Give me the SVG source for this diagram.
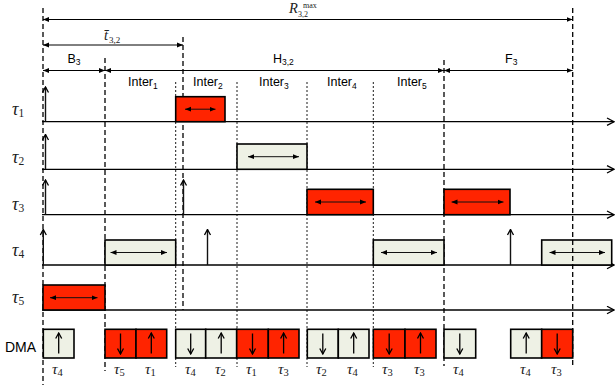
<svg xmlns="http://www.w3.org/2000/svg" width="616" height="385" viewBox="0 0 616 385">
  <defs>
    <marker id="tri" viewBox="0 0 6 6" markerWidth="6" markerHeight="6" refX="6" refY="3" orient="auto-start-reverse" markerUnits="userSpaceOnUse">
      <path d="M0,0.6 L6,3 L0,5.4 z" fill="#000"/>
    </marker>
    <marker id="chev" viewBox="0 0 9 9" markerWidth="9" markerHeight="9" refX="8" refY="4.5" orient="auto" markerUnits="userSpaceOnUse">
      <path d="M1,0.8 L8,4.5 L1,8.2" fill="none" stroke="#000" stroke-width="1.3"/>
    </marker>
    <marker id="chevs" viewBox="0 0 8 8" markerWidth="8" markerHeight="8" refX="7" refY="4" orient="auto" markerUnits="userSpaceOnUse">
      <path d="M1.5,1 L7,4 L1.5,7" fill="none" stroke="#000" stroke-width="1.3"/>
    </marker>
  </defs>
  <style>
    .dash { stroke: #000; stroke-width: 1.3; stroke-dasharray: 5 3; fill: none; }
    .dot { stroke: #000; stroke-width: 0.9; stroke-dasharray: 2 2; fill: none; }
    .dim { stroke: #000; stroke-width: 1; marker-start: url(#tri); marker-end: url(#tri); }
    .axis { stroke: #000; stroke-width: 1.3; marker-end: url(#chev); }
    .rel { stroke: #111; stroke-width: 1.4; marker-end: url(#chevs); }
    .red { fill: #FF2400; stroke: #000; stroke-width: 1.6; }
    .lite { fill: #EEF1E5; stroke: #000; stroke-width: 1.6; }
    .span { stroke: #111; stroke-width: 1; marker-start: url(#tri); marker-end: url(#tri); }
    .dma { stroke: #000; stroke-width: 1.3; marker-end: url(#chevs); }
    .sans { font-family: "Liberation Sans", Arial, sans-serif; fill: #000; }
    .serif { font-family: "Liberation Serif", "Times New Roman", serif; fill: #222; }
    .math { font-family: "Liberation Serif", "Times New Roman", serif; font-style: italic; fill: #222; }
    .sub { font-style: normal; }
  </style>
  <rect width="616" height="385" fill="#fff"/>

  <!-- phase boundaries (behind the jobs) -->
  <g id="boundaries">
    <line class="dash" x1="43" y1="8" x2="43" y2="385"/>
    <line class="dash" x1="105" y1="58" x2="105" y2="371"/>
    <line class="dash" x1="183" y1="37" x2="183" y2="310"/>
    <line class="dash" x1="444" y1="60" x2="444" y2="366"/>
    <line class="dot" x1="175.7" y1="82" x2="175.7" y2="367"/>
    <line class="dot" x1="237" y1="82" x2="237" y2="367"/>
    <line class="dot" x1="307" y1="82" x2="307" y2="367"/>
    <line class="dot" x1="373.3" y1="82" x2="373.3" y2="367"/>
  </g>

  <!-- interval labels -->
  <g id="intervals">
    <line class="dim" x1="43" y1="19.5" x2="572.7" y2="19.5"/>
    <text class="math" x="289" y="12.5" font-size="14.5">R</text>
    <text class="serif" x="303" y="7.6" font-size="8">max</text>
    <text class="serif" x="298" y="16.6" font-size="8">3,2</text>

    <line class="dim" x1="43" y1="45" x2="183" y2="45"/>
    <text class="math" x="104" y="39.5" font-size="14.5">t̄</text>
    <text class="serif" x="109" y="42.5" font-size="9">3,2</text>

    <line class="dim" x1="43" y1="70.5" x2="105" y2="70.5"/>
    <line class="dim" x1="105" y1="70.5" x2="444" y2="70.5"/>
    <line class="dim" x1="444" y1="70.5" x2="572.7" y2="70.5"/>
    <text class="sans" x="67.5" y="62.5" font-size="12.5">B<tspan font-size="8.5" dy="2.5">3</tspan></text>
    <text class="sans" x="273" y="62.5" font-size="12.5">H<tspan font-size="8.5" dy="2.5">3,2</tspan></text>
    <text class="sans" x="505" y="62.5" font-size="12.5">F<tspan font-size="8.5" dy="2.5">3</tspan></text>

    <text class="sans" x="128" y="86" font-size="12.5">Inter<tspan font-size="8.5" dy="2.5">1</tspan></text>
    <text class="sans" x="193" y="86" font-size="12.5">Inter<tspan font-size="8.5" dy="2.5">2</tspan></text>
    <text class="sans" x="259" y="86" font-size="12.5">Inter<tspan font-size="8.5" dy="2.5">3</tspan></text>
    <text class="sans" x="327" y="86" font-size="12.5">Inter<tspan font-size="8.5" dy="2.5">4</tspan></text>
    <text class="sans" x="397" y="86" font-size="12.5">Inter<tspan font-size="8.5" dy="2.5">5</tspan></text>
  </g>

  <!-- row labels -->
  <g id="row-labels">
    <text class="math" x="12" y="115" font-size="18">τ<tspan class="sub" font-size="11.5" dy="2">1</tspan></text>
    <text class="math" x="12" y="163" font-size="18">τ<tspan class="sub" font-size="11.5" dy="2">2</tspan></text>
    <text class="math" x="12" y="210" font-size="18">τ<tspan class="sub" font-size="11.5" dy="2">3</tspan></text>
    <text class="math" x="12" y="256" font-size="18">τ<tspan class="sub" font-size="11.5" dy="2">4</tspan></text>
    <text class="math" x="12" y="303" font-size="18">τ<tspan class="sub" font-size="11.5" dy="2">5</tspan></text>
    <text class="sans" x="5" y="351.5" font-size="14">DMA</text>
  </g>

  <!-- time axes and release arrows -->
  <g id="connectors">
    <line class="axis" x1="42" y1="121.7" x2="614" y2="121.7"/>
    <line class="axis" x1="42" y1="169.3" x2="614" y2="169.3"/>
    <line class="axis" x1="42" y1="214.7" x2="614" y2="214.7"/>
    <line class="axis" x1="42" y1="265" x2="614" y2="265"/>
    <line class="axis" x1="42" y1="310" x2="614" y2="310"/>

    <line class="rel" x1="45.5" y1="121.7" x2="45.5" y2="87"/>
    <line class="rel" x1="45.5" y1="169.3" x2="45.5" y2="134.5"/>
    <line class="rel" x1="45.5" y1="214.7" x2="45.5" y2="180"/>
    <line class="rel" x1="183.5" y1="214.7" x2="183.5" y2="180"/>
    <line class="rel" x1="43.3" y1="265" x2="43.3" y2="229.5"/>
    <line class="rel" x1="207.5" y1="265" x2="207.5" y2="229.5" stroke="#555"/>
    <line class="rel" x1="510.5" y1="265" x2="510.5" y2="229.5" stroke="#555"/>
  </g>

  <!-- task executions -->
  <g id="job-t1">
    <rect class="red" x="175.7" y="96.7" width="49.3" height="25"/>
    <line class="span" x1="185" y1="109.2" x2="215.5" y2="109.2"/>
  </g>
  <g id="job-t2">
    <rect class="lite" x="237" y="144" width="70" height="25.3"/>
    <line class="span" x1="248" y1="156.7" x2="299" y2="156.7"/>
  </g>
  <g id="job-t3a">
    <rect class="red" x="307" y="189.3" width="66.3" height="25.4"/>
    <line class="span" x1="315" y1="202" x2="366" y2="202"/>
  </g>
  <g id="job-t3b">
    <rect class="red" x="444" y="189.3" width="66" height="25.4"/>
    <line class="span" x1="451.5" y1="202" x2="503.5" y2="202"/>
  </g>
  <g id="job-t4a">
    <rect class="lite" x="105" y="240" width="70.7" height="25"/>
    <line class="span" x1="110.5" y1="252.5" x2="167" y2="252.5"/>
  </g>
  <g id="job-t4b">
    <rect class="lite" x="373.3" y="240" width="70.7" height="25"/>
    <line class="span" x1="381" y1="252.5" x2="437" y2="252.5"/>
  </g>
  <g id="job-t4c">
    <rect class="lite" x="541.7" y="240" width="70" height="25"/>
    <line class="span" x1="549.5" y1="252.5" x2="605" y2="252.5"/>
  </g>
  <g id="job-t5">
    <rect class="red" x="43" y="285" width="62" height="25"/>
    <line class="span" x1="50" y1="297.7" x2="97.5" y2="297.7"/>
  </g>

  <!-- DMA transfers: up = load, down = store -->
  <g id="dma-1">
    <rect class="lite" x="43.3" y="329.3" width="30.7" height="28.7"/>
    <line class="dma" x1="58.7" y1="353.5" x2="58.7" y2="333"/>
    <text class="math" x="52" y="374" font-size="15.5">τ<tspan class="sub" font-size="10.5" dy="2">4</tspan></text>
  </g>
  <g id="dma-2">
    <rect class="red" x="105" y="329.3" width="31" height="28.7"/>
    <line class="dma" x1="120.5" y1="333.5" x2="120.5" y2="354"/>
    <text class="math" x="114" y="374" font-size="15.5">τ<tspan class="sub" font-size="10.5" dy="2">5</tspan></text>
  </g>
  <g id="dma-3">
    <rect class="red" x="136" y="329.3" width="30.7" height="28.7"/>
    <line class="dma" x1="151.3" y1="353.5" x2="151.3" y2="333"/>
    <text class="math" x="145" y="374" font-size="15.5">τ<tspan class="sub" font-size="10.5" dy="2">1</tspan></text>
  </g>
  <g id="dma-4">
    <rect class="lite" x="175.7" y="329.3" width="30" height="28.7"/>
    <line class="dma" x1="190.7" y1="333.5" x2="190.7" y2="354"/>
    <text class="math" x="185" y="374" font-size="15.5">τ<tspan class="sub" font-size="10.5" dy="2">4</tspan></text>
  </g>
  <g id="dma-5">
    <rect class="lite" x="205.7" y="329.3" width="31" height="28.7"/>
    <line class="dma" x1="221.2" y1="353.5" x2="221.2" y2="333"/>
    <text class="math" x="215" y="374" font-size="15.5">τ<tspan class="sub" font-size="10.5" dy="2">2</tspan></text>
  </g>
  <g id="dma-6">
    <rect class="red" x="236.7" y="329.3" width="31.6" height="28.7"/>
    <line class="dma" x1="252.5" y1="333.5" x2="252.5" y2="354"/>
    <text class="math" x="246" y="374" font-size="15.5">τ<tspan class="sub" font-size="10.5" dy="2">1</tspan></text>
  </g>
  <g id="dma-7">
    <rect class="red" x="268.3" y="329.3" width="30.7" height="28.7"/>
    <line class="dma" x1="283.6" y1="353.5" x2="283.6" y2="333"/>
    <text class="math" x="278" y="374" font-size="15.5">τ<tspan class="sub" font-size="10.5" dy="2">3</tspan></text>
  </g>
  <g id="dma-8">
    <rect class="lite" x="307.3" y="329.3" width="31" height="28.7"/>
    <line class="dma" x1="322.8" y1="333.5" x2="322.8" y2="354"/>
    <text class="math" x="316" y="374" font-size="15.5">τ<tspan class="sub" font-size="10.5" dy="2">2</tspan></text>
  </g>
  <g id="dma-9">
    <rect class="lite" x="338.3" y="329.3" width="30.7" height="28.7"/>
    <line class="dma" x1="353.7" y1="353.5" x2="353.7" y2="333"/>
    <text class="math" x="347" y="374" font-size="15.5">τ<tspan class="sub" font-size="10.5" dy="2">4</tspan></text>
  </g>
  <g id="dma-10">
    <rect class="red" x="373.3" y="329.3" width="31.7" height="28.7"/>
    <line class="dma" x1="389.2" y1="333.5" x2="389.2" y2="354"/>
    <text class="math" x="382" y="374" font-size="15.5">τ<tspan class="sub" font-size="10.5" dy="2">3</tspan></text>
  </g>
  <g id="dma-11">
    <rect class="red" x="405" y="329.3" width="31" height="28.7"/>
    <line class="dma" x1="420.5" y1="353.5" x2="420.5" y2="333"/>
    <text class="math" x="414" y="374" font-size="15.5">τ<tspan class="sub" font-size="10.5" dy="2">3</tspan></text>
  </g>
  <g id="dma-12">
    <rect class="lite" x="444" y="329.3" width="31.7" height="28.7"/>
    <line class="dma" x1="459.8" y1="333.5" x2="459.8" y2="354"/>
    <text class="math" x="453" y="374" font-size="15.5">τ<tspan class="sub" font-size="10.5" dy="2">4</tspan></text>
  </g>
  <g id="dma-13">
    <rect class="lite" x="510.7" y="329.3" width="31" height="28.7"/>
    <line class="dma" x1="526.2" y1="353.5" x2="526.2" y2="333"/>
    <text class="math" x="520" y="374" font-size="15.5">τ<tspan class="sub" font-size="10.5" dy="2">4</tspan></text>
  </g>
  <g id="dma-14">
    <rect class="red" x="541.7" y="329.3" width="31" height="28.7"/>
    <line class="dma" x1="557.2" y1="333.5" x2="557.2" y2="354"/>
    <text class="math" x="551" y="374" font-size="15.5">τ<tspan class="sub" font-size="10.5" dy="2">3</tspan></text>
  </g>

  <!-- response-time bound, drawn over the last job -->
  <g id="bound">
    <line class="dash" x1="572.7" y1="8" x2="572.7" y2="367"/>
  </g>
</svg>
